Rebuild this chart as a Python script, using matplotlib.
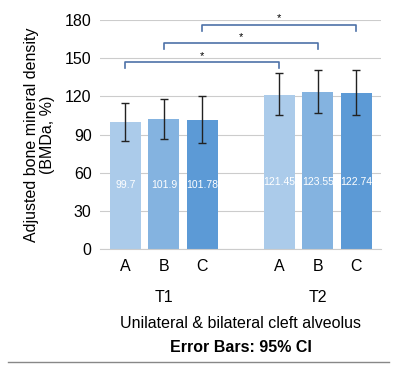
import numpy as np
import matplotlib.pyplot as plt

plt.rcParams['font.family'] = ['Liberation Sans', 'DejaVu Sans']

# --- DATOS ---
grupos = ['T1', 'T2']
sub = ['A', 'B', 'C']
medias = [99.7, 101.9, 101.78, 121.45, 123.55, 122.74]
etiquetas = ['99.7', '101.9', '101.78', '121.45', '123.55', '122.74']
ic_bajo = [85, 86.5, 83.5, 105, 107, 105]
ic_alto = [115, 118, 120, 138, 140.5, 140.5]
colores = ['#abcbea', '#84b3e0', '#5c9ad6']

# comparaciones significativas (indice inicio, indice fin, altura)
comparaciones = [(0, 3, 147), (1, 4, 162), (2, 5, 176.5)]

x = np.array([0, 1, 2, 4, 5, 6])

fig = plt.figure(figsize=(4.14, 3.72), dpi=100)
ax = fig.add_axes([0.2415, 0.3306, 0.6785, 0.6155])

medias = np.array(medias)
err = [medias - np.array(ic_bajo), np.array(ic_alto) - medias]
ax.bar(x, medias, width=0.8, color=colores * 2, zorder=2)
ax.errorbar(x, medias, yerr=err, fmt='none', ecolor='#222222',
            elinewidth=1.0, capsize=3, capthick=1.0, zorder=3)

for xi, m, t in zip(x, medias, etiquetas):
    yy = 50 if m < 110 else 53
    ax.text(xi, yy, t, ha='center', va='center', color='white', fontsize=7.5)

# corchetes de significancia
for i, j, h in comparaciones:
    ax.plot([x[i], x[i], x[j], x[j]], [h - 5, h, h, h - 5],
            color='#4e72a8', lw=1.2, clip_on=False, zorder=4)
    ax.text((x[i] + x[j]) / 2, h + 0.8, '*', ha='center', va='bottom',
            fontsize=8, clip_on=False)

ax.set_ylim(0, 180)
ax.set_xlim(-0.66, 6.64)
ax.set_yticks(np.arange(0, 181, 30))
ax.yaxis.grid(True, color='#cccccc', lw=0.8, zorder=0)
ax.set_axisbelow(True)
for s in ['top', 'right', 'left']:
    ax.spines[s].set_visible(False)
ax.spines['bottom'].set_color('#cccccc')
ax.tick_params(axis='both', length=0, labelsize=11.5, pad=6)
ax.set_xticks(x)
ax.set_xticklabels(sub * 2)
ax.tick_params(axis='x', pad=7)

ax.set_ylabel('Adjusted bone mineral density\n(BMDa, %)', fontsize=11.5,
              linespacing=1.1, labelpad=7)

fig.text((125.5 + 202.5) / 2 / 414, 1 - 298 / 372, grupos[0], ha='center',
         va='center', fontsize=11.5)
fig.text((279.5 + 356.5) / 2 / 414, 1 - 298 / 372, grupos[1], ha='center',
         va='center', fontsize=11.5)
fig.text(241 / 414, 1 - 323 / 372, 'Unilateral & bilateral cleft alveolus',
         ha='center', va='center', fontsize=11.5)
fig.text(241 / 414, 1 - 348 / 372, 'Error Bars: 95% CI', ha='center',
         va='center', fontsize=11.5, fontweight='bold')
fig.add_artist(plt.Line2D([8 / 414, 389 / 414], [1 - 362 / 372] * 2,
                          color='#888888', lw=1))

plt.savefig('out.png', dpi=100)
